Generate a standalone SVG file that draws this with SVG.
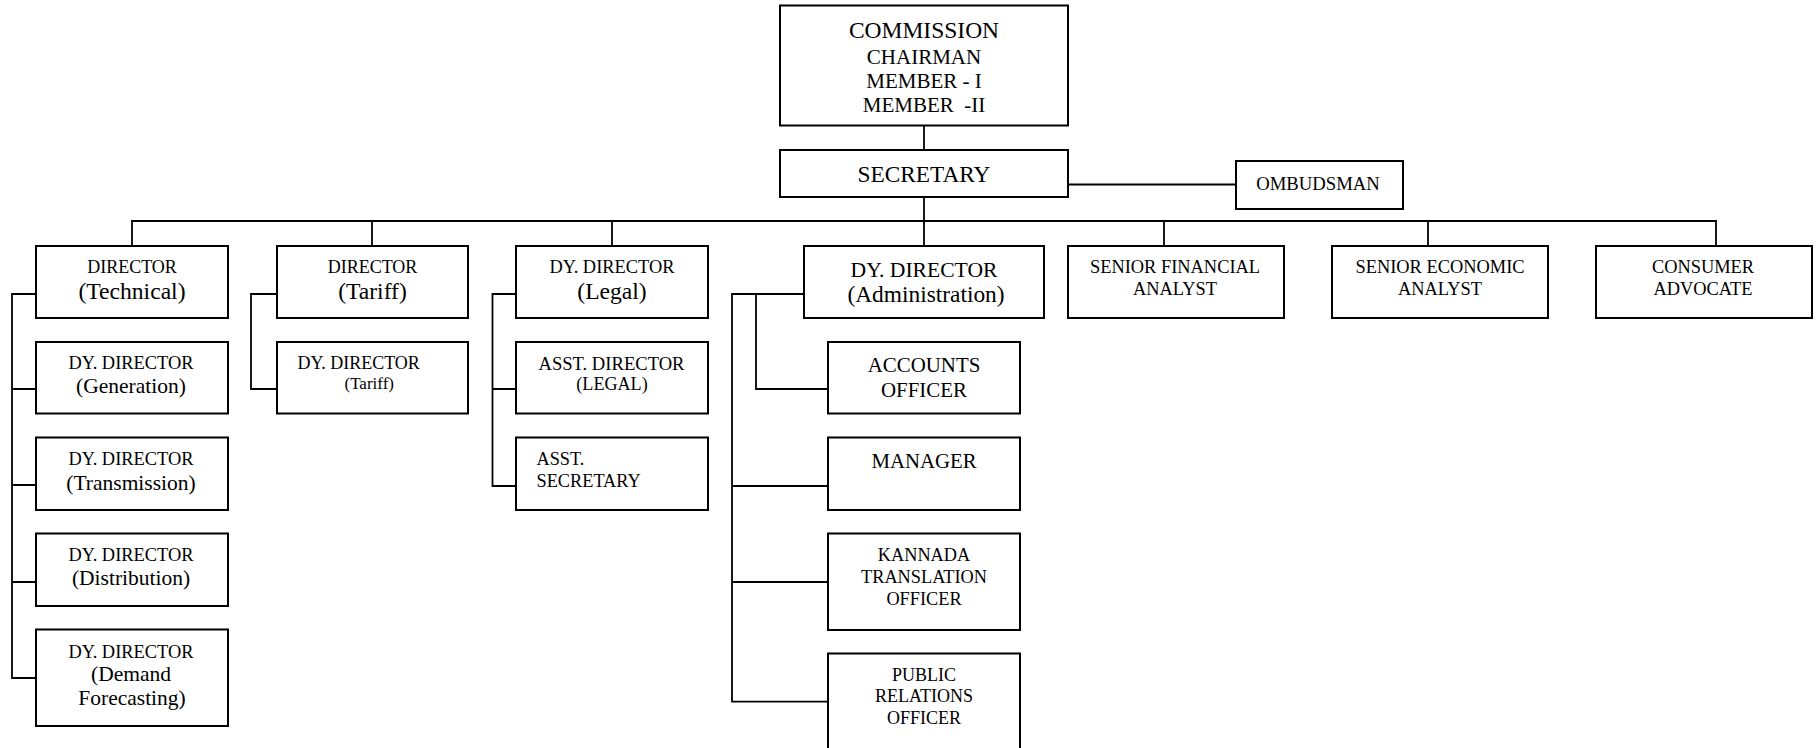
<svg xmlns="http://www.w3.org/2000/svg" width="1818" height="748" viewBox="0 0 1818 748">
<style>
  .box { fill: #ffffff; stroke: #000000; stroke-width: 2; }
  .ln { fill: none; stroke: #000000; stroke-width: 1.8; stroke-linecap: square; }
  text { fill: #000000; text-anchor: middle; }
  .l { text-anchor: start; }
</style>
<rect x="0" y="0" width="1818" height="748" fill="#ffffff"/>

<g id="connectors">
  <path class="ln" d="M924 125.5 V150"/>
  <path class="ln" d="M924 197 V221"/>
  <path class="ln" d="M1068 184.5 H1236"/>
  <path class="ln" d="M132 221 H1716"/>
  <path class="ln" d="M132 221 V246 M372 221 V246 M612 221 V246 M924 221 V246 M1164 221 V246 M1428 221 V246 M1716 221 V246"/>
  <path class="ln" d="M36 294 H12 V678 H36 M12 389 H36 M12 485 H36 M12 582 H36"/>
  <path class="ln" d="M277 294 H251 V389 H277"/>
  <path class="ln" d="M516 294 H492.5 V486 H516 M492.5 389 H516"/>
  <path class="ln" d="M804 294 H732 V701.7 H828 M732 486 H828 M732 582 H828"/>
  <path class="ln" d="M756 294 V389 H828"/>
</g>

<g id="commission">
  <rect class="box" x="780" y="5.5" width="288" height="120"/>
  <text x="924" y="37.5" style="font-family:'Liberation Serif',serif;font-size:23.5px">COMMISSION</text>
  <text x="924" y="63.5" style="font-family:'Liberation Serif',serif;font-size:21px">CHAIRMAN</text>
  <text x="924" y="88" style="font-family:'Liberation Serif',serif;font-size:21px">MEMBER - I</text>
  <text x="924" y="112" style="font-family:'Liberation Serif',serif;font-size:21px" xml:space="preserve">MEMBER  -II</text>
</g>

<g id="secretary">
  <rect class="box" x="780" y="150" width="288" height="47"/>
  <text x="924" y="182" style="font-family:'Liberation Serif',serif;font-size:23.3px">SECRETARY</text>
</g>

<g id="ombudsman">
  <rect class="box" x="1236" y="161" width="167" height="48"/>
  <text x="1318" y="190" style="font-family:'Liberation Serif',serif;font-size:18.7px">OMBUDSMAN</text>
</g>

<g id="director-technical">
  <rect class="box" x="36" y="246" width="192" height="72"/>
  <text x="132" y="273" style="font-family:'Liberation Serif',serif;font-size:18px">DIRECTOR</text>
  <text x="132" y="299" style="font-family:'Liberation Serif',serif;font-size:23.6px">(Technical)</text>
</g>

<g id="director-tariff">
  <rect class="box" x="277" y="246" width="191" height="72"/>
  <text x="372.5" y="273" style="font-family:'Liberation Serif',serif;font-size:18px">DIRECTOR</text>
  <text x="372.5" y="299" style="font-family:'Liberation Serif',serif;font-size:23.6px">(Tariff)</text>
</g>

<g id="dy-director-legal">
  <rect class="box" x="516" y="246" width="192" height="72"/>
  <text x="612" y="273" style="font-family:'Liberation Serif',serif;font-size:18.4px">DY. DIRECTOR</text>
  <text x="612" y="299" style="font-family:'Liberation Serif',serif;font-size:23.6px">(Legal)</text>
</g>

<g id="dy-director-administration">
  <rect class="box" x="804" y="246" width="240" height="72"/>
  <text x="924" y="276.5" style="font-family:'Liberation Serif',serif;font-size:21.6px">DY. DIRECTOR</text>
  <text x="926" y="301.5" style="font-family:'Liberation Serif',serif;font-size:23.4px">(Administration)</text>
</g>

<g id="senior-financial-analyst">
  <rect class="box" x="1068" y="246" width="216" height="72"/>
  <text x="1175" y="273" style="font-family:'Liberation Serif',serif;font-size:18.4px">SENIOR FINANCIAL</text>
  <text x="1175" y="295" style="font-family:'Liberation Serif',serif;font-size:18.4px">ANALYST</text>
</g>

<g id="senior-economic-analyst">
  <rect class="box" x="1332" y="246" width="216" height="72"/>
  <text x="1440" y="273" style="font-family:'Liberation Serif',serif;font-size:18.4px">SENIOR ECONOMIC</text>
  <text x="1440" y="295" style="font-family:'Liberation Serif',serif;font-size:18.4px">ANALYST</text>
</g>

<g id="consumer-advocate">
  <rect class="box" x="1596" y="246" width="216" height="72"/>
  <text x="1703" y="273" style="font-family:'Liberation Serif',serif;font-size:18.4px">CONSUMER</text>
  <text x="1703" y="295" style="font-family:'Liberation Serif',serif;font-size:18.4px">ADVOCATE</text>
</g>

<g id="dy-director-generation">
  <rect class="box" x="36" y="342" width="192" height="71.5"/>
  <text x="131" y="369" style="font-family:'Liberation Serif',serif;font-size:18.4px">DY. DIRECTOR</text>
  <text x="131" y="393" style="font-family:'Liberation Serif',serif;font-size:21.5px">(Generation)</text>
</g>

<g id="dy-director-transmission">
  <rect class="box" x="36" y="437.5" width="192" height="72.5"/>
  <text x="131" y="465" style="font-family:'Liberation Serif',serif;font-size:18.4px">DY. DIRECTOR</text>
  <text x="131" y="489.5" style="font-family:'Liberation Serif',serif;font-size:21.5px">(Transmission)</text>
</g>

<g id="dy-director-distribution">
  <rect class="box" x="36" y="533.5" width="192" height="72.5"/>
  <text x="131" y="560.5" style="font-family:'Liberation Serif',serif;font-size:18.4px">DY. DIRECTOR</text>
  <text x="131" y="584.5" style="font-family:'Liberation Serif',serif;font-size:21.5px">(Distribution)</text>
</g>

<g id="dy-director-demand-forecasting">
  <rect class="box" x="36" y="629.5" width="192" height="96.5"/>
  <text x="131" y="658" style="font-family:'Liberation Serif',serif;font-size:18.4px">DY. DIRECTOR</text>
  <text x="131" y="681" style="font-family:'Liberation Serif',serif;font-size:21.5px">(Demand</text>
  <text x="132" y="705" style="font-family:'Liberation Serif',serif;font-size:21.5px">Forecasting)</text>
</g>

<g id="dy-director-tariff">
  <rect class="box" x="277" y="342" width="191" height="71.5"/>
  <text class="l" x="297.5" y="369.3" style="font-family:'Liberation Serif',serif;font-size:18px">DY. DIRECTOR</text>
  <text class="l" x="344.5" y="389.3" style="font-family:'Liberation Serif',serif;font-size:17px">(Tariff)</text>
</g>

<g id="asst-director-legal">
  <rect class="box" x="516" y="342" width="192" height="71.5"/>
  <text x="611.5" y="369.5" style="font-family:'Liberation Serif',serif;font-size:18.6px">ASST. DIRECTOR</text>
  <text x="612" y="390" style="font-family:'Liberation Serif',serif;font-size:18.1px">(LEGAL)</text>
</g>

<g id="asst-secretary">
  <rect class="box" x="516" y="437.5" width="192" height="72.5"/>
  <text class="l" x="536.5" y="465" style="font-family:'Liberation Serif',serif;font-size:18.3px">ASST.</text>
  <text class="l" x="536.5" y="486.7" style="font-family:'Liberation Serif',serif;font-size:18.3px">SECRETARY</text>
</g>

<g id="accounts-officer">
  <rect class="box" x="828" y="342" width="192" height="71.5"/>
  <text x="924" y="372" style="font-family:'Liberation Serif',serif;font-size:20.9px">ACCOUNTS</text>
  <text x="924" y="396.5" style="font-family:'Liberation Serif',serif;font-size:20.9px">OFFICER</text>
</g>

<g id="manager">
  <rect class="box" x="828" y="437.5" width="192" height="72.5"/>
  <text x="924" y="467.5" style="font-family:'Liberation Serif',serif;font-size:20.8px">MANAGER</text>
</g>

<g id="kannada-translation-officer">
  <rect class="box" x="828" y="533.5" width="192" height="96.5"/>
  <text x="924" y="561" style="font-family:'Liberation Serif',serif;font-size:18.3px">KANNADA</text>
  <text x="924" y="583" style="font-family:'Liberation Serif',serif;font-size:18.3px">TRANSLATION</text>
  <text x="924" y="605" style="font-family:'Liberation Serif',serif;font-size:18.3px">OFFICER</text>
</g>

<g id="public-relations-officer">
  <rect class="box" x="828" y="653.5" width="192" height="110"/>
  <text x="924" y="680.5" style="font-family:'Liberation Serif',serif;font-size:18px">PUBLIC</text>
  <text x="924" y="702" style="font-family:'Liberation Serif',serif;font-size:18px">RELATIONS</text>
  <text x="924" y="723.5" style="font-family:'Liberation Serif',serif;font-size:18px">OFFICER</text>
</g>
</svg>
